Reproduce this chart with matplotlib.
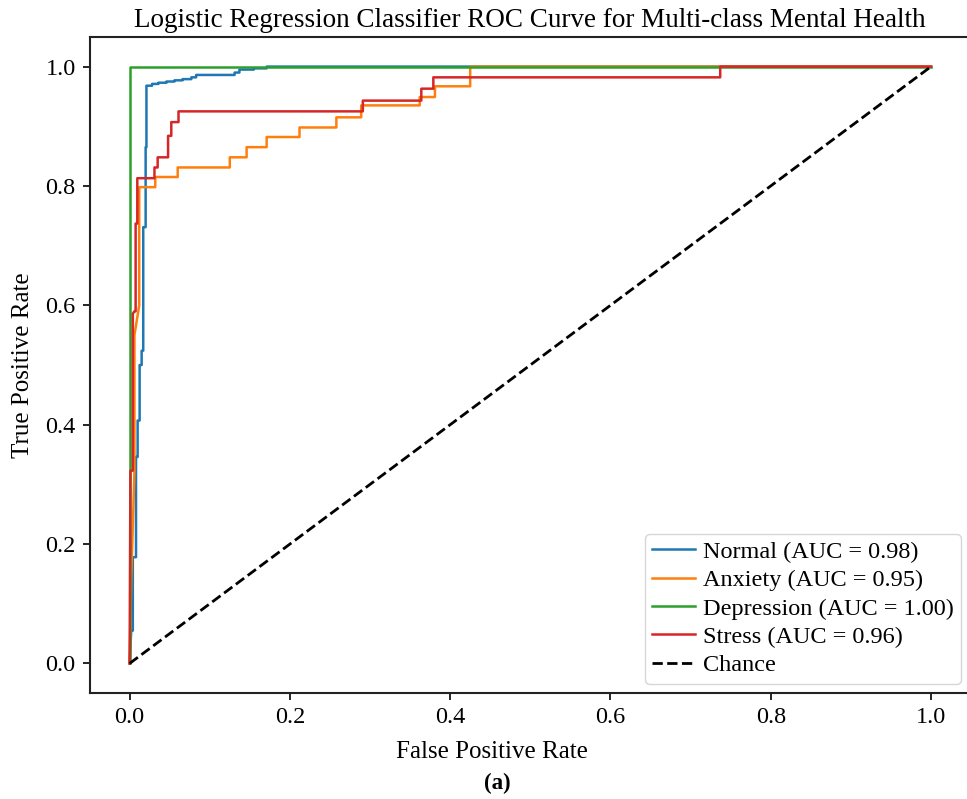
import matplotlib.pyplot as plt

plt.rcParams['font.family'] = ['Liberation Serif', 'DejaVu Serif']

# ROC points per class (false positive rate, true positive rate)
normal_fpr = [0, 0.002, 0.004, 0.004, 0.008, 0.008, 0.010, 0.010, 0.0125, 0.0125,
              0.015, 0.015, 0.017, 0.017, 0.020, 0.020, 0.021, 0.021, 0.028, 0.028,
              0.036, 0.036, 0.046, 0.046, 0.056, 0.056, 0.066, 0.066, 0.077, 0.077,
              0.083, 0.083, 0.131, 0.131, 0.137, 0.137, 0.155, 0.155, 0.171, 0.171, 1.0]
normal_tpr = [0, 0.055, 0.055, 0.178, 0.178, 0.346, 0.346, 0.407, 0.407, 0.500,
              0.500, 0.524, 0.524, 0.731, 0.731, 0.865, 0.865, 0.968, 0.968, 0.971,
              0.971, 0.973, 0.973, 0.975, 0.975, 0.977, 0.977, 0.979, 0.979, 0.982,
              0.982, 0.986, 0.986, 0.990, 0.990, 0.995, 0.995, 0.997, 0.997, 1.0, 1.0]

anxiety_fpr = [0, 0.002, 0.006, 0.006, 0.012, 0.012, 0.032, 0.032, 0.060, 0.060,
               0.125, 0.125, 0.146, 0.146, 0.171, 0.171, 0.212, 0.212, 0.258, 0.258,
               0.289, 0.289, 0.362, 0.362, 0.381, 0.381, 0.425, 0.425, 1.0]
anxiety_tpr = [0, 0.140, 0.320, 0.550, 0.600, 0.798, 0.798, 0.815, 0.815, 0.831,
               0.831, 0.848, 0.848, 0.865, 0.865, 0.882, 0.882, 0.898, 0.898, 0.915,
               0.915, 0.935, 0.935, 0.949, 0.949, 0.967, 0.967, 1.0, 1.0]

depression_fpr = [0, 0, 1.0]
depression_tpr = [0, 1.0, 1.0]

stress_fpr = [0, 0.001, 0.004, 0.004, 0.006, 0.0075, 0.0075, 0.0096, 0.0096, 0.031,
              0.031, 0.035, 0.035, 0.048, 0.048, 0.052, 0.052, 0.061, 0.061, 0.291,
              0.291, 0.364, 0.364, 0.379, 0.379, 0.737, 0.737, 1.0]
stress_tpr = [0, 0.323, 0.323, 0.586, 0.590, 0.590, 0.737, 0.737, 0.813, 0.813,
              0.831, 0.831, 0.848, 0.848, 0.884, 0.884, 0.907, 0.907, 0.925, 0.925,
              0.943, 0.943, 0.963, 0.963, 0.982, 0.982, 1.0, 1.0]

labels = ['Normal', 'Anxiety', 'Depression', 'Stress']
aucs = [0.98, 0.95, 1.00, 0.96]
colors = ['#1f77b4', '#ff7f0e', '#2ca02c', '#d62728']
curves = [(normal_fpr, normal_tpr), (anxiety_fpr, anxiety_tpr),
          (depression_fpr, depression_tpr), (stress_fpr, stress_tpr)]

fig = plt.figure(figsize=(9.67, 7.99), dpi=100)
ax = fig.add_axes([0.0926, 0.1323, 0.9116, 0.8217])

for (fpr, tpr), name, auc, c in zip(curves, labels, aucs, colors):
    ax.plot(fpr, tpr, color=c, lw=1.8, label=f'{name} (AUC = {auc:.2f})')
ax.plot([0, 1], [0, 1], 'k--', lw=2, label='Chance')

ax.set_xlim(-0.05, 1.05)
ax.set_ylim(-0.05, 1.05)
ax.set_xticks([0, 0.2, 0.4, 0.6, 0.8, 1.0])
ax.set_yticks([0, 0.2, 0.4, 0.6, 0.8, 1.0])
ax.tick_params(labelsize=17.5, width=1.2, length=5, pad=5)
for s in ax.spines.values():
    s.set_linewidth(1.5)
    s.set_color('#222222')

ax.set_title('Logistic Regression Classifier ROC Curve for Multi-class Mental Health',
             fontsize=19.5, pad=7)
ax.set_xlabel('False Positive Rate', fontsize=18)
ax.set_ylabel('True Positive Rate', fontsize=18)
ax.xaxis.set_label_coords(0.457, -0.072)
ax.yaxis.set_label_coords(-0.063, 0.5)
ax.legend(loc='lower right', fontsize=17.5, handlelength=1.75, borderpad=0.3,
          labelspacing=0.26, handletextpad=0.35, borderaxespad=0.4)

fig.text(0.514, 0.012, '(a)', fontsize=16.5, fontweight='bold', ha='center')

fig.savefig('out.png')
